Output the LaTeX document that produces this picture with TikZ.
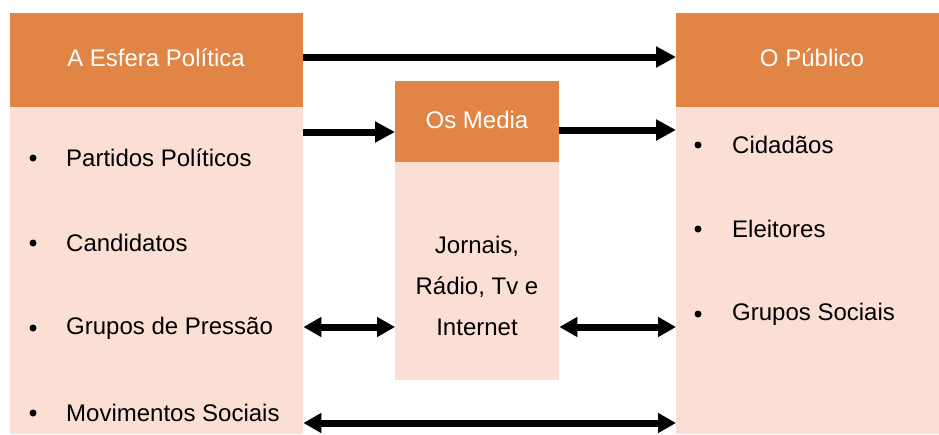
\documentclass[tikz,border=0pt]{standalone}
\usepackage{fontspec}
\setmainfont{Liberation Sans}
\usetikzlibrary{arrows.meta,calc}
\definecolor{hdr}{RGB}{224,133,70}
\definecolor{bdy}{RGB}{251,223,213}
\tikzset{
  hbox/.style={fill=hdr,draw=none,inner sep=0pt,anchor=north west},
  bbox/.style={fill=bdy,draw=none,inner sep=0pt,anchor=north west},
  htext/.style={text=white,inner sep=0pt,font=\fontsize{24}{29}\selectfont},
  item/.style={anchor=west,inner sep=0pt,font=\fontsize{24}{29}\selectfont},
  bul/.style={circle,fill=black,inner sep=0pt,minimum size=7pt},
  arr/.style={line width=7pt,-{Triangle[length=20pt,width=20pt]}},
  darr/.style={line width=7pt,{Triangle[length=18pt,width=19pt]}-{Triangle[length=18pt,width=19pt]}},
}
\begin{document}
\begin{tikzpicture}[x=1pt,y=-1pt]
\useasboundingbox (0,0) rectangle (939,434);
% boxes
\node[hbox,minimum width=293pt,minimum height=94pt] (lh) at (10,13) {};
\node[bbox,minimum width=293pt,minimum height=327pt] (lb) at (10,107) {};
\node[hbox,minimum width=263pt,minimum height=94pt] (rh) at (676,13) {};
\node[bbox,minimum width=263pt,minimum height=327pt] (rb) at (676,107) {};
\node[hbox,minimum width=164pt,minimum height=81pt] (mh) at (395,81) {};
\node[bbox,minimum width=164pt,minimum height=218pt] (mb) at (395,162) {};
% header texts
\node[htext] (lt) at (156,58) {A Esfera Política};
\node[htext] (rt) at (812,58) {O Público};
\node[htext] (mt) at (477,120) {Os Media};
% left items
\foreach \n/\y/\t in {l1/158/Partidos Políticos,l2/243/Candidatos,l3/328/Grupos de Pressão,l4/413/Movimentos Sociais}{
  \node[bul] (\n b) at (33,\y) {};
  \node[item] (\n) at (66,\y) {\t};
}
% right items
\foreach \n/\y/\t in {r1/145/Cidadãos,r2/229/Eleitores,r3/314/Grupos Sociais}{
  \node[bul] (\n b) at (698,\y) {};
  \node[item] (\n) at (732,\y) {\t};
}
% media text
\node[align=center,inner sep=0pt,font=\fontsize{24}{29}\selectfont] (mtx) at (477,286) {Jornais,\\[12pt]Rádio, Tv e\\[12pt]Internet};
% arrow levels
\coordinate (y0) at (0,57);
\coordinate (y1) at (0,132);
\coordinate (y2) at (0,130);
\coordinate (y3) at (0,327);
\coordinate (y4) at (0,423);
\begin{scope}[shift={(1.5,2.5)},black!25,opacity=0.5]
\draw[arr] (lh.east|-y0) -- (rh.west|-y0);
\draw[arr] (lb.east|-y1) -- (mh.west|-y1);
\draw[arr] (mh.east|-y2) -- (rb.west|-y2);
\draw[darr] (lb.east|-y3) -- (mb.west|-y3);
\draw[darr] (mb.east|-y3) -- (rb.west|-y3);
\draw[darr] (lb.east|-y4) -- (rb.west|-y4);
\end{scope}
\draw[arr] (lh.east|-y0) -- (rh.west|-y0);
\draw[arr] (lb.east|-y1) -- (mh.west|-y1);
\draw[arr] (mh.east|-y2) -- (rb.west|-y2);
\draw[darr] (lb.east|-y3) -- (mb.west|-y3);
\draw[darr] (mb.east|-y3) -- (rb.west|-y3);
\draw[darr] (lb.east|-y4) -- (rb.west|-y4);
\end{tikzpicture}
\end{document}
